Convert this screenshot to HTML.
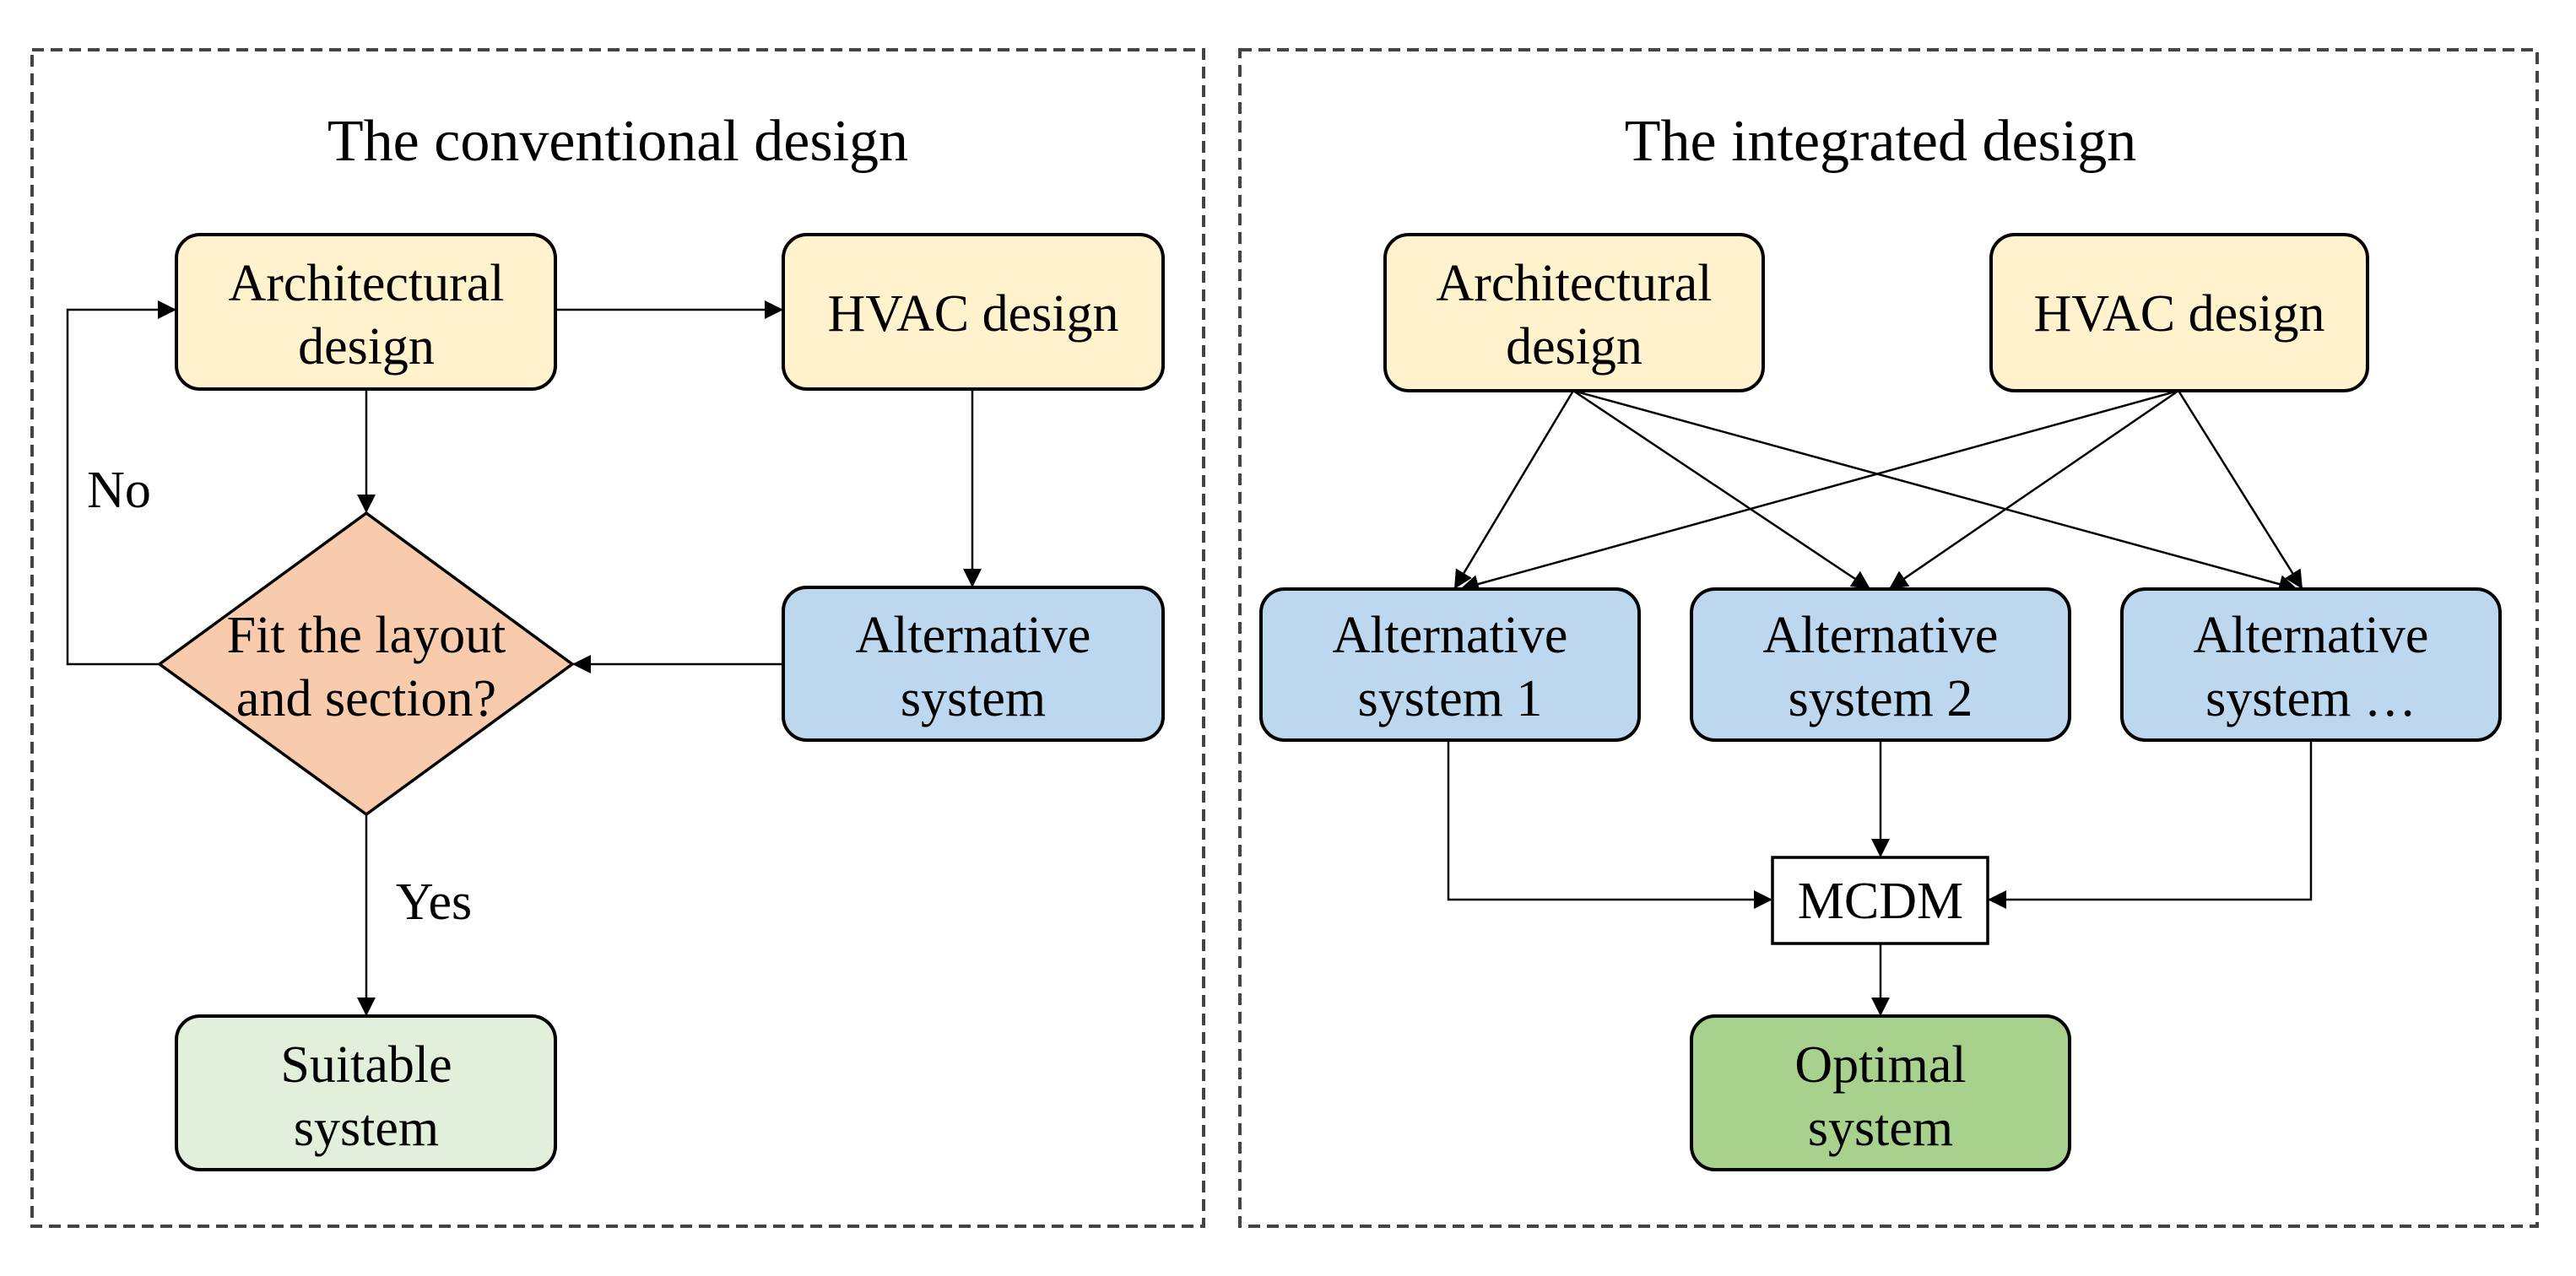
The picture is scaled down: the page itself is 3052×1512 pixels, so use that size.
<!DOCTYPE html>
<html><head><meta charset="utf-8"><style>html,body{margin:0;padding:0;background:#fff}svg{display:block}</style></head>
<body>
<svg width="3052" height="1512" viewBox="0 0 3052 1512" xmlns="http://www.w3.org/2000/svg" font-family="'Liberation Serif', serif">
<defs>
<marker id="a" markerWidth="10" markerHeight="10" refX="9" refY="5" orient="auto" markerUnits="userSpaceOnUse" viewBox="0 0 10 10">
</marker>
<marker id="ar" viewBox="0 0 10 10" refX="10" refY="5" markerWidth="22" markerHeight="22" markerUnits="userSpaceOnUse" orient="auto"><path d="M0,0 L10,5 L0,10 z" fill="#000"/></marker>
</defs>
<rect x="38" y="59" width="1388" height="1394" fill="none" stroke="#444" stroke-width="4" stroke-dasharray="14,8"/>
<rect x="1469" y="59" width="1537" height="1394" fill="none" stroke="#444" stroke-width="4" stroke-dasharray="14,8"/>

<g font-size="70" text-anchor="middle" fill="#000">
<text x="732" y="190">The conventional design</text>
<text x="2228" y="190">The integrated design</text>
</g>

<g stroke="#000" stroke-width="2.5" fill="none">
<!-- left -->
<polyline points="189,787 80,787 80,367 209,367" marker-end="url(#ar)"/>
<line x1="658" y1="367" x2="928" y2="367" marker-end="url(#ar)"/>
<line x1="434" y1="461" x2="434" y2="608" marker-end="url(#ar)"/>
<line x1="1152" y1="461" x2="1152" y2="696" marker-end="url(#ar)"/>
<line x1="928" y1="787" x2="678" y2="787" marker-end="url(#ar)"/>
<line x1="434" y1="965" x2="434" y2="1204" marker-end="url(#ar)"/>
<!-- right -->
<line x1="1864" y1="463" x2="1723" y2="698" marker-end="url(#ar)"/>
<line x1="1864" y1="463" x2="2216" y2="698" marker-end="url(#ar)"/>
<line x1="1864" y1="463" x2="2722" y2="698" marker-end="url(#ar)"/>
<line x1="2581" y1="463" x2="1730" y2="698" marker-end="url(#ar)"/>
<line x1="2581" y1="463" x2="2238" y2="698" marker-end="url(#ar)"/>
<line x1="2581" y1="463" x2="2728" y2="698" marker-end="url(#ar)"/>
<polyline points="1716,877 1716,1066 2100,1066" marker-end="url(#ar)"/>
<line x1="2228" y1="877" x2="2228" y2="1016" marker-end="url(#ar)"/>
<polyline points="2738,877 2738,1066 2355,1066" marker-end="url(#ar)"/>
<line x1="2228" y1="1118" x2="2228" y2="1204" marker-end="url(#ar)"/>
</g>

<g stroke="#000" stroke-width="4">
<rect x="209" y="278" width="449" height="183" rx="28" fill="#FFF2CC"/>
<rect x="928" y="278" width="450" height="183" rx="28" fill="#FFF2CC"/>
<rect x="928" y="696" width="450" height="181" rx="28" fill="#BDD7EE"/>
<polygon points="434,608 678,787 434,965 189,787" fill="#F8CBAD" stroke-width="3.5"/>
<rect x="209" y="1204" width="449" height="182" rx="28" fill="#E2EFDA"/>

<rect x="1641" y="278" width="448" height="185" rx="28" fill="#FFF2CC"/>
<rect x="2359" y="278" width="446" height="185" rx="28" fill="#FFF2CC"/>
<rect x="1494" y="698" width="448" height="179" rx="28" fill="#BDD7EE"/>
<rect x="2004" y="698" width="448" height="179" rx="28" fill="#BDD7EE"/>
<rect x="2514" y="698" width="448" height="179" rx="28" fill="#BDD7EE"/>
<rect x="2100" y="1016" width="255" height="102" fill="#fff" stroke-width="3.5"/>
<rect x="2004" y="1204" width="448" height="182" rx="28" fill="#A9D18E"/>
</g>

<g font-size="62" text-anchor="middle" fill="#000">
<text x="434" y="356">Architectural</text><text x="434" y="431">design</text>
<text x="1153" y="392">HVAC design</text>
<text x="1153" y="773">Alternative</text><text x="1153" y="848">system</text>
<text x="434" y="773">Fit the layout</text><text x="434" y="848">and section?</text>
<text x="434" y="1282">Suitable</text><text x="434" y="1357">system</text>
<text x="141" y="601">No</text>
<text x="514" y="1089">Yes</text>

<text x="1865" y="356">Architectural</text><text x="1865" y="431">design</text>
<text x="2582" y="392">HVAC design</text>
<text x="1718" y="773">Alternative</text><text x="1718" y="848">system 1</text>
<text x="2228" y="773">Alternative</text><text x="2228" y="848">system 2</text>
<text x="2738" y="773">Alternative</text><text x="2738" y="848">system …</text>
<text x="2228" y="1088">MCDM</text>
<text x="2228" y="1282">Optimal</text><text x="2228" y="1357">system</text>
</g>
</svg>
</body></html>
